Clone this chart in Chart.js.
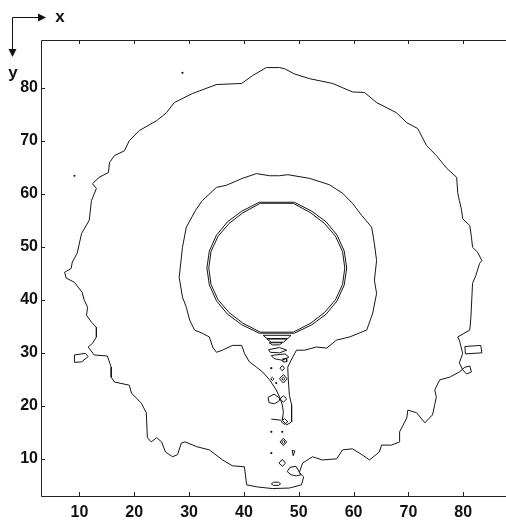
<!DOCTYPE html>
<html lang="en">
<head>
  <meta charset="UTF-8">
  <title>Contour</title>
  <script src="https://cdn.jsdelivr.net/npm/chart.js"></script>
  <style>
    html, body { margin: 0; padding: 0; background: #fff; }
    #wrap { width: 506px; height: 521px; }
  </style>
</head>
<body>
  <div id="wrap"><canvas id="contourChart" width="506" height="521"></canvas></div>

  <script>
    // axis ticks
    const xTicks = [10, 20, 30, 40, 50, 60, 70, 80];
    const yTicks = [10, 20, 30, 40, 50, 60, 70, 80];

    // outer contour
    const outerContour = [
      [46.5,83.8],[44.1,83.8],[41.6,82.3],[39.6,80.8],[35.0,80.6],[30.6,78.9],[27.3,77.2],[25.9,75.3],
      [24.1,73.8],[20.9,71.9],[19.1,70.0],[18.2,68.1],[16.4,67.2],[15.5,65.9],[15.3,64.0],[13.6,63.1],
      [12.4,61.9],[13.1,61.0],[12.2,58.7],[11.8,55.0],[10.4,52.5],[9.6,48.8],[8.7,47.1],[8.5,45.9],
      [7.3,45.2],[7.6,44.1],[9.1,43.3],[10.5,41.4],[10.9,39.9],[11.5,38.6],[11.3,37.1],[12.2,35.8],
      [13.1,34.8],[13.1,33.0],[12.4,31.8],[11.6,31.1],[12.7,29.6],[15.1,29.4],[15.8,27.3],[15.8,25.4],
      [16.4,24.5],[19.1,23.9],[19.5,22.4],[21.3,20.5],[22.2,18.7],[22.4,14.0],[23.1,13.2],[24.1,14.0],
      [25.0,13.2],[25.7,11.3],[27.0,10.4],[27.9,10.8],[28.6,13.0],[29.3,13.2],[31.4,12.3],[33.7,11.7],
      [36.1,9.8],[37.9,8.7],[40.1,8.5],[40.5,5.1],[42.5,4.7],[45.2,4.4],[48.3,4.5],[50.5,5.1],
      [50.9,6.6],[50.1,7.4],[50.7,9.2],[52.5,10.4],[54.3,9.8],[56.9,10.0],[58.0,11.7],[59.8,11.9],
      [61.5,10.8],[62.9,9.8],[64.7,11.3],[65.1,12.6],[66.9,12.6],[68.4,13.2],[68.4,15.1],[69.7,17.7],
      [69.9,19.2],[71.5,18.7],[73.0,16.8],[74.4,18.3],[74.8,20.2],[75.1,21.7],[74.8,23.0],[75.7,24.9],
      [77.5,25.4],[79.3,26.4],[80.3,27.3],[81.2,27.5],[81.5,26.4],[80.6,26.0],[79.9,26.8],[79.3,28.1],
      [79.9,29.9],[79.3,32.4],[79.0,33.0],[81.2,34.3],[81.4,36.7],[81.7,43.1],[82.3,44.6],[83.0,46.9],
      [83.4,47.4],[82.6,49.0],[81.7,49.9],[81.5,51.8],[81.2,54.0],[79.9,55.3],[79.7,56.9],[79.3,58.7],
      [79.0,60.2],[78.8,63.1],[77.0,64.8],[75.1,67.2],[73.3,69.1],[71.7,72.3],[69.7,73.4],[67.8,75.3],
      [64.2,77.2],[62.0,79.1],[59.8,79.2],[56.2,80.8],[52.0,81.7],[49.2,82.6],[47.4,83.6],[46.5,83.8]
    ];

    // contour around the cylinder, with the wake funnel
    const middleContour = [
      [46.5,63.4],[48.0,63.6],[52.0,62.9],[55.6,61.7],[58.0,60.1],[59.8,58.2],[61.5,55.9],[63.3,53.7],
      [63.8,50.6],[64.2,47.4],[63.8,43.7],[64.2,41.2],[63.5,37.5],[62.4,34.3],[59.3,33.0],[56.9,32.4],
      [55.1,30.9],[53.2,31.1],[51.1,30.5],[49.6,30.5],[48.9,29.2],[48.0,27.3],[48.1,24.9],[48.3,22.0],
      [48.7,20.2],[48.7,18.3],[48.7,17.0],[47.8,16.4],[47.0,17.3],[47.2,18.8],[47.0,20.2],[46.5,21.7],
      [45.9,23.0],[44.7,24.9],[43.4,26.4],[42.3,27.3],[41.0,28.3],[40.1,29.9],[39.6,31.4],[37.9,31.4],
      [36.1,30.5],[35.0,30.1],[34.3,31.1],[33.7,33.0],[32.4,33.7],[31.0,34.3],[30.1,36.2],[29.5,38.6],
      [28.8,40.5],[28.2,44.2],[28.8,49.9],[29.5,53.7],[31.2,56.9],[32.4,58.7],[35.0,61.2],[36.8,61.6],
      [39.7,62.9],[42.3,63.8],[44.7,63.4],[46.5,63.4]
    ];

    // cylinder edge, two close contours
    const ringOuter = [
      [42.8,58.4],[49.2,58.4],[52.4,56.7],[55.0,54.7],[57.0,52.2],[58.3,49.2],[58.75,46.0],[58.3,42.8],
      [57.0,39.8],[55.0,37.3],[52.4,35.3],[49.2,33.7],[42.8,33.7],[39.6,35.3],[37.0,37.3],[35.0,39.8],
      [33.7,42.8],[33.25,46.0],[33.7,49.2],[35.0,52.2],[37.0,54.7],[39.6,56.7],[42.8,58.4]
    ];
    const ringInner = [
      [43.0,58.2],[49.0,58.2],[52.2,56.4],[54.7,54.4],[56.7,52.0],[58.0,49.1],[58.4,46.0],[58.0,42.9],
      [56.7,40.0],[54.7,37.6],[52.2,35.6],[49.0,33.9],[43.0,33.9],[39.8,35.6],[37.3,37.6],[35.3,40.0],
      [34.0,42.9],[33.6,46.0],[34.0,49.1],[35.3,52.0],[37.3,54.4],[39.8,56.4],[43.0,58.2]
    ];

    // small closed contours in the wake and at the sides
    const smallLoops = [
      [[43.5,33.3],[48.6,33.3],[48.0,32.7],[44.2,32.7],[43.5,33.3]],
      [[44.2,32.6],[47.9,32.6],[47.2,32.0],[45.0,32.0],[44.2,32.6]],
      [[44.6,31.9],[47.0,31.9],[46.5,31.5],[45.2,31.5],[44.6,31.9]],
      [[44.5,30.6],[46.5,31.0],[47.8,30.5],[46.5,30.0],[44.8,30.1],[44.5,30.6]],
      [[45.0,29.5],[47.5,29.8],[48.2,29.2],[47.0,28.6],[45.5,28.9],[45.0,29.5]],
      [[47.1,28.9],[47.8,28.9],[47.8,28.3],[47.1,28.3],[47.1,28.9]],
      [[47.0,27.6],[47.4,27.1],[47.0,26.6],[46.6,27.1],[47.0,27.6]],
      [[47.2,25.9],[47.9,25.1],[47.2,24.3],[46.5,25.1],[47.2,25.9]],
      [[47.2,25.4],[47.5,25.1],[47.2,24.8],[46.9,25.1],[47.2,25.4]],
      [[45.2,25.4],[45.5,25.1],[45.2,24.8],[44.9,25.1],[45.2,25.4]],
      [[47.2,21.9],[47.8,21.3],[47.2,20.7],[46.6,21.3],[47.2,21.9]],
      [[46.5,21.5],[45.5,22.2],[44.4,21.6],[44.6,20.6],[45.6,20.4],[46.5,21.0],[46.5,21.5]],
      [[47.4,17.6],[48.0,17.0],[47.4,16.5],[46.8,17.0],[47.4,17.6]],
      [[47.2,13.9],[47.8,13.2],[47.2,12.5],[46.6,13.2],[47.2,13.9]],
      [[47.2,13.5],[47.5,13.2],[47.2,12.9],[46.9,13.2],[47.2,13.5]],
      [[48.8,11.6],[49.3,11.5],[49.0,10.6],[48.8,11.6]],
      [[47.0,9.9],[47.6,9.2],[47.0,8.6],[46.4,9.2],[47.0,9.9]],
      [[50.4,7.0],[49.5,8.6],[48.4,8.4],[47.9,7.6],[48.6,7.0],[49.6,6.8],[50.4,7.0]],
      [[45.0,5.3],[45.4,5.6],[46.3,5.6],[46.7,5.3],[46.3,5.0],[45.4,5.0],[45.0,5.3]],
      [[9.1,29.6],[11.1,29.9],[11.6,29.3],[10.4,28.3],[9.1,28.2],[9.1,29.6]],
      [[80.3,31.2],[83.2,31.4],[83.4,30.0],[80.4,29.8],[80.3,31.2]]
    ];
    const wakeTail = [[45.0,17.5],[46.8,17.3]];

    // isolated specks
    const specks = [
      [28.8,82.8],[9.1,63.4],[45.0,27.1],[45.9,24.3],[45.0,15.1],[47.0,15.1],[45.0,11.1]
    ];

    const lineColor = '#151515';

    function lineSet(points) {
      return {
        data: points.map(([x, y]) => ({ x, y })),
        showLine: true,
        borderColor: lineColor,
        borderWidth: 1,
        pointRadius: 0,
        pointHoverRadius: 0,
        tension: 0,
        fill: false
      };
    }

    const datasets = [
      lineSet(outerContour),
      lineSet(middleContour),
      lineSet(ringOuter),
      lineSet(ringInner),
      lineSet(wakeTail),
      ...smallLoops.map(lineSet),
      {
        data: specks.map(([x, y]) => ({ x, y })),
        showLine: false,
        pointRadius: 1.1,
        pointHoverRadius: 1.1,
        pointBackgroundColor: lineColor,
        pointBorderWidth: 0
      }
    ];

    // axes frame, inward ticks, x/y direction arrows
    const framePlugin = {
      id: 'frame',
      afterDraw(chart) {
        const ctx = chart.ctx;
        const { left, right, top, bottom } = chart.chartArea;
        const xs = chart.scales.x, ys = chart.scales.y;
        ctx.save();
        ctx.strokeStyle = '#222';
        ctx.lineWidth = 1;
        ctx.beginPath();
        ctx.moveTo(left + 0.5, top + 0.5);
        ctx.lineTo(right, top + 0.5);
        ctx.moveTo(left + 0.5, top + 0.5);
        ctx.lineTo(left + 0.5, bottom + 0.5);
        ctx.lineTo(right, bottom + 0.5);
        xTicks.forEach(v => {
          const px = Math.round(xs.getPixelForValue(v)) + 0.5;
          ctx.moveTo(px, bottom); ctx.lineTo(px, bottom - 4);
          ctx.moveTo(px, top); ctx.lineTo(px, top + 4);
        });
        yTicks.forEach(v => {
          const py = Math.round(ys.getPixelForValue(v)) + 0.5;
          ctx.moveTo(left, py); ctx.lineTo(left + 4, py);
        });
        ctx.stroke();

        // direction arrows
        ctx.strokeStyle = '#111';
        ctx.fillStyle = '#111';
        ctx.beginPath();
        ctx.moveTo(12.5, 17.5); ctx.lineTo(40, 17.5);
        ctx.moveTo(12.5, 17.5); ctx.lineTo(12.5, 51);
        ctx.stroke();
        ctx.beginPath();
        ctx.moveTo(46, 17.5); ctx.lineTo(38, 13.5); ctx.lineTo(38, 21.5); ctx.closePath();
        ctx.moveTo(12.5, 57); ctx.lineTo(8.5, 49); ctx.lineTo(16.5, 49); ctx.closePath();
        ctx.fill();
        ctx.font = 'bold 17px "Liberation Sans", Arial, sans-serif';
        ctx.textAlign = 'center';
        ctx.textBaseline = 'middle';
        ctx.fillText('x', 60, 17);
        ctx.fillText('y', 13, 73);
        ctx.restore();
      }
    };

    const tickFont = { family: '"Liberation Sans", Arial, sans-serif', size: 16, weight: 'bold' };

    new Chart(document.getElementById('contourChart'), {
      type: 'scatter',
      data: { datasets },
      options: {
        responsive: false,
        animation: false,
        layout: { autoPadding: false, padding: { top: 40, right: 0, left: 0, bottom: 0 } },
        plugins: { legend: { display: false }, tooltip: { enabled: false } },
        scales: {
          x: {
            type: 'linear',
            min: 3,
            max: 87.8,
            grid: { display: false, drawTicks: false },
            border: { display: false },
            ticks: { color: '#111', font: tickFont, padding: 7, maxRotation: 0 },
            afterBuildTicks: s => { s.ticks = xTicks.map(v => ({ value: v })); },
            afterFit: s => { s.height = 25; s.paddingLeft = 0; s.paddingRight = 0; }
          },
          y: {
            type: 'linear',
            min: 3,
            max: 89,
            grid: { display: false, drawTicks: false },
            border: { display: false },
            ticks: { color: '#111', font: tickFont, padding: 3 },
            afterBuildTicks: s => { s.ticks = yTicks.map(v => ({ value: v })); },
            afterFit: s => { s.width = 41; s.paddingTop = 0; s.paddingBottom = 0; }
          }
        }
      },
      plugins: [framePlugin]
    });
  </script>
</body>
</html>
